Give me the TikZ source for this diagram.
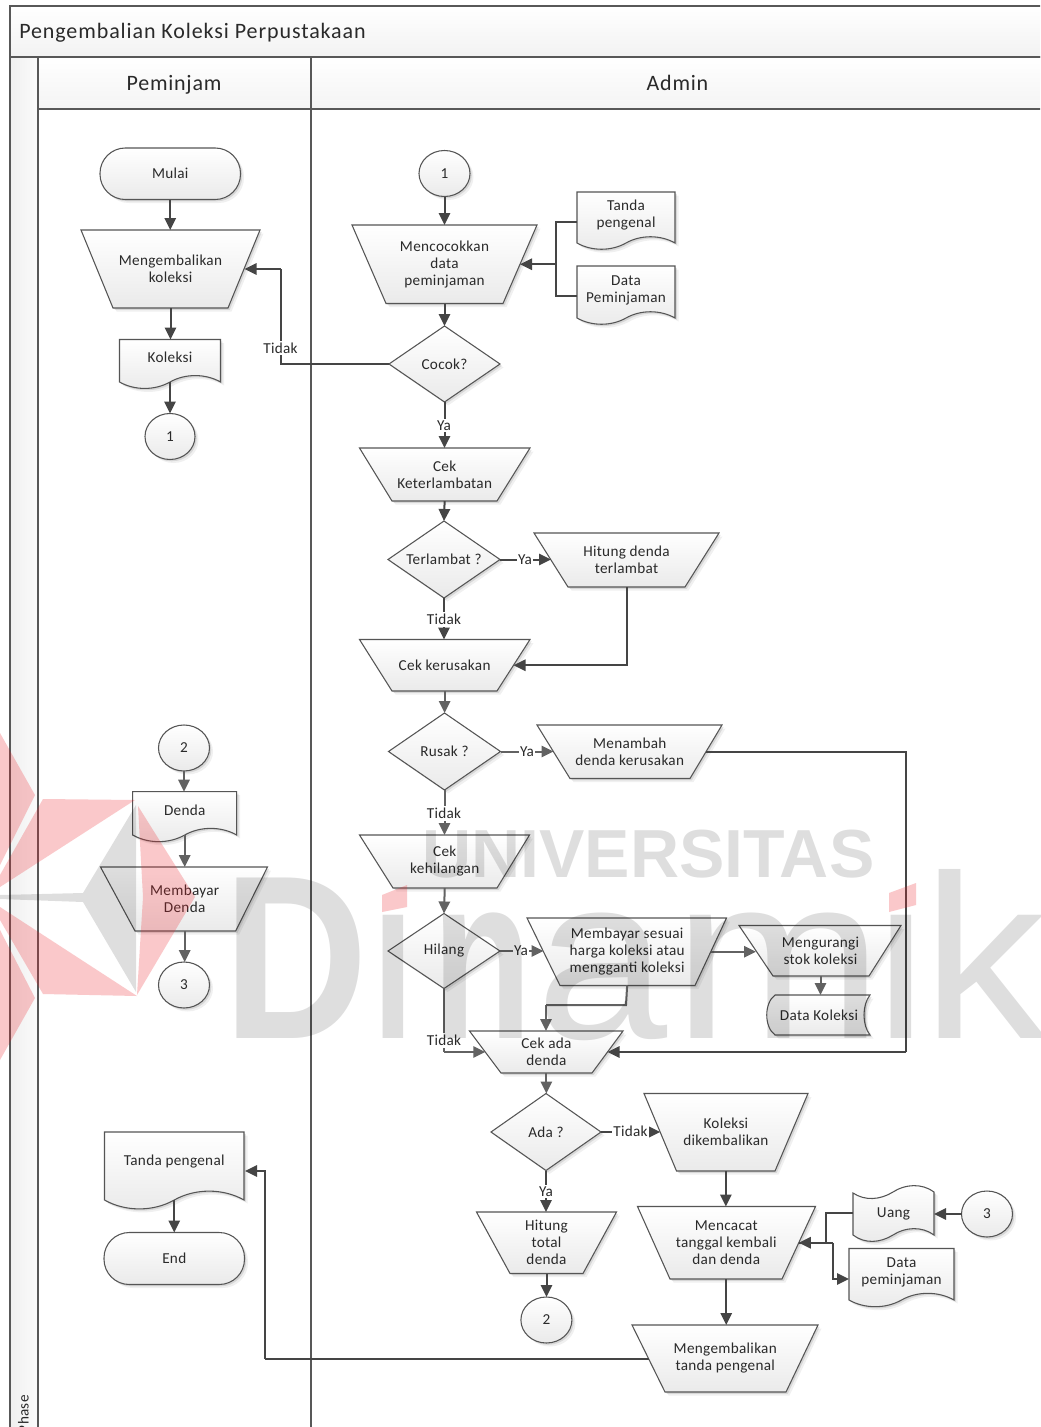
\documentclass[tikz,border=0pt]{standalone}
\usepackage{fontspec}
\setmainfont{Carlito}
\newfontfamily\wmfont{Liberation Sans}
\newfontfamily\lblff[LetterSpace=2]{Carlito}
\newfontfamily\hdrff[LetterSpace=3.5]{Carlito}
\newfontfamily\ttlff[LetterSpace=4.1]{Carlito}
\usetikzlibrary{arrows.meta,shapes.geometric,calc}
\tikzset{
  shp/.style={draw=linegray,line width=0.8pt,top color=white,bottom color=shapeend},
  lbl/.style={font=\lblfont,text=textdark,align=center,inner sep=0pt},
  box/.style={inner sep=0pt,outer sep=0pt,font=\lblfont,text=textdark,align=center},
  edgelbl/.style={font=\lblfont,text=textdark,fill=white,inner xsep=1pt,inner ysep=1.5pt},
  conn/.style={draw=conndark,line width=1.5pt,-{Triangle[length=9pt,width=8.5pt]}},
  connl/.style={draw=connlight,line width=1.5pt,-{Triangle[length=9pt,width=8.5pt]}},
  plain/.style={draw=conndark,line width=1.5pt},
  plainl/.style={draw=connlight,line width=1.5pt},
  frame/.style={draw=framegray,line width=1.2pt},
  hdr/.style={font=\hdrff\fontsize{16.5pt}{18pt}\selectfont,text=textdark,inner sep=0pt},
  wmgray/.style={font=\wmfont\fontsize{175pt}{175pt}\selectfont,text=black,opacity=.13,inner sep=0pt,anchor=base west},
}
\definecolor{linegray}{HTML}{555555}
\definecolor{shapeend}{HTML}{EAEAEA}
\definecolor{textdark}{HTML}{2A2A2A}
\definecolor{conndark}{HTML}{454545}
\definecolor{connlight}{HTML}{626262}
\definecolor{framegray}{HTML}{585858}
\definecolor{wmred}{HTML}{ED1C24}
\newcommand\lblfont{\lblff\fontsize{11.4pt}{12.75pt}\selectfont}
\newcommand\shpath[1]{%
  \path[fill=black,opacity=.06,shift={(3.5,3.5)}] #1;
  \path[fill=black,opacity=.10,shift={(1.8,1.8)}] #1;
  \path[shp] #1;}
% name, top-left x, top-right x, top y, bottom-left x, bottom-right x, bottom y, text
\newcommand\tpz[8]{%
  \shpath{(#2,#4) -- (#3,#4) -- (#6,#7) -- (#5,#7) -- cycle}
  \pgfmathsetmacro\wdv{((#3-#2)+(#6-#5))/2*0.75}
  \pgfmathsetmacro\hgv{(#7-#4)*0.75}
  \node[box,minimum width=\wdv pt,minimum height=\hgv pt] (#1) at ({(#2+#3+#5+#6)/4},{(#4+#7)/2}) {#8};}
% name, cx, cy, half w, half h, text
\newcommand\dmd[6]{%
  \shpath{(#2,{#3-#5}) -- ({#2+#4},#3) -- (#2,{#3+#5}) -- ({#2-#4},#3) -- cycle}
  \pgfmathsetmacro\wdv{2*#4*0.75}
  \pgfmathsetmacro\hgv{2*#5*0.75}
  \node[box,minimum width=\wdv pt,minimum height=\hgv pt] (#1) at (#2,#3) {#6};}
% name, cx, cy, rx, ry, text
\newcommand\ovl[6]{%
  \shpath{(#2,#3) ellipse [x radius=#4,y radius=#5]}
  \pgfmathsetmacro\wdv{2*#4*0.75}
  \pgfmathsetmacro\hgv{2*#5*0.75}
  \node[box,ellipse,minimum width=\wdv pt,minimum height=\hgv pt] (#1) at (#2,#3) {#6};}
% name, x1, x2, y1, y2, text
\newcommand\term[6]{%
  \shpath{[rounded corners=19pt] (#2,#4) rectangle (#3,#5)}
  \pgfmathsetmacro\wdv{(#3-#2)*0.75}
  \pgfmathsetmacro\hgv{(#5-#4)*0.75}
  \node[box,minimum width=\wdv pt,minimum height=\hgv pt] (#1) at ({(#2+#3)/2},{(#4+#5)/2}) {#6};}
% name, x1, x2, y1, y2, text y, text
\newcommand\docN[7]{%
  \pgfmathsetmacro\wv{#3-#2}
  \pgfmathsetmacro\xm{(#2+#3)/2}
  \pgfmathsetmacro\cxv{0.15*\wv}
  \pgfmathsetmacro\dyv{0.085*\wv}
  \shpath{(#2,#4) -- (#3,#4) -- (#3,#5) .. controls ({#3-\cxv},{#5-\dyv}) and ({\xm+\cxv},{#5-\dyv}) .. (\xm,#5) .. controls ({\xm-\cxv},{#5+\dyv}) and ({#2+\cxv},{#5+\dyv}) .. (#2,#5) -- cycle}
  \pgfmathsetmacro\wdv{\wv*0.75}
  \pgfmathsetmacro\hgv{(#5-#4)*0.75}
  \node[inner sep=0pt,outer sep=0pt,minimum width=\wdv pt,minimum height=\hgv pt] (#1) at (\xm,{(#4+#5)/2}) {};
  \node[lbl] (#1t) at (\xm,#6) {#7};}
\begin{document}
\begin{tikzpicture}[x=0.75pt,y=-0.75pt]
\useasboundingbox (0,0) rectangle (1040,1427);
\clip (0,0) rectangle (1040,1427);
\fill[white] (0,0) rectangle (1040,1427);
% pool and lanes
\path[frame,left color=gray!12,right color=gray!3] (10,57) rectangle (38,1435);
\path[frame,top color=white,bottom color=gray!10] (10,6) rectangle (1045,57);
\path[frame,top color=white,bottom color=gray!9] (38,57) rectangle (311,109);
\path[frame,top color=white,bottom color=gray!9] (311,57) rectangle (1045,109);
\draw[frame] (311,109) -- (311,1435);
\node[hdr,font=\ttlff\fontsize{16.5pt}{18pt}\selectfont,anchor=west] (title) at (19,32.5) {Pengembalian Koleksi Perpustakaan};
\node[hdr] (lane1) at (174,85) {Peminjam};
\node[hdr] (lane2) at (677.5,83) {Admin};
\node[font=\lblfont,text=textdark,rotate=90,anchor=east,inner sep=0pt] (phase) at (23.5,1395) {Phase};
% Peminjam lane
\term{mulai}{100}{240.5}{148}{199.5}{Mulai}
\tpz{kembali}{81}{260}{230}{113}{228}{308}{Mengembalikan\\koleksi}
\docN{koleksi}{119.5}{220.5}{339.5}{382}{357}{Koleksi}
\ovl{c1a}{170}{436.5}{25}{23}{1}
\ovl{c2a}{184}{748}{25.5}{23}{2}
\docN{denda}{132.7}{236.7}{791.7}{835}{810}{Denda}
\tpz{bayar}{100.5}{267.5}{867}{135}{235.7}{931}{Membayar\\Denda}
\ovl{c3a}{184}{985}{25.5}{23}{3}
\docN{tanda}{104.5}{244}{1132}{1200}{1162}{Tanda pengenal}
\term{endn}{104}{244.5}{1232.5}{1284.5}{End}
% Admin lane
\ovl{c1b}{444.5}{173.5}{25.5}{23}{1}
\tpz{cocokkan}{352}{537}{225}{386}{503}{303.5}{Mencocokkan\\data\\peminjaman}
\docN{tp}{577}{675}{192}{243}{215}{Tanda\\pengenal}
\docN{dp}{577}{675}{266}{318}{290}{Data\\Peminjaman}
\dmd{cocok}{444.5}{364}{55.5}{38}{Cocok?}
\tpz{cekl}{359.5}{530}{448}{392}{497}{501}{Cek\\Keterlambatan}
\dmd{telat}{444}{559.5}{56}{38.5}{Terlambat ?}
\tpz{hitung}{534}{719}{533}{568}{685}{587}{Hitung denda\\terlambat}
\tpz{cekr}{359.5}{530}{639.5}{392}{497}{691}{Cek kerusakan}
\dmd{rusak}{444.5}{751.5}{56}{38.5}{Rusak ?}
\tpz{nambah}{537}{722}{725}{570}{690}{778.5}{Menambah\\denda kerusakan}
\tpz{cekh}{359.5}{529.5}{835}{393}{497}{888}{Cek\\kehilangan}
\dmd{hilang}{444}{951}{56}{37.5}{\raisebox{-1.5pt}{Hilang}}
\tpz{sesuai}{527}{726.5}{918}{560}{695}{985.5}{Membayar sesuai\\harga koleksi atau\\mengganti koleksi}
\tpz{kurang}{739}{901}{925.5}{773}{869}{976}{Mengurangi\\stok koleksi}
\shpath{(775,995) -- (870,995) .. controls (862,1005) and (862,1025) .. (870,1035) -- (775,1035) .. controls (764,1027) and (764,1003) .. (775,995) -- cycle}
\node[box,minimum width=76.5pt,minimum height=30pt] (dkol) at (819,1015) {Data Koleksi};
\tpz{cekd}{469.5}{623}{1031}{501}{592}{1073}{Cek ada\\denda}
\dmd{ada}{546}{1132}{55}{38.5}{Ada ?}
\tpz{dikem}{644}{808}{1093.5}{676.5}{775}{1171}{Koleksi\\dikembalikan}
\tpz{total}{476.5}{616.5}{1212}{510}{583}{1273.5}{Hitung\\total\\denda}
\ovl{c2b}{546.4}{1320}{25.5}{23}{2}
\tpz{catat}{637.5}{815.5}{1206.5}{670}{782}{1279}{Mencacat\\tanggal kembali\\dan denda}
\shpath{(853,1193) .. controls (865,1201) and (880,1200) .. (893,1192) .. controls (905,1184) and (922,1183) .. (934,1192) -- (934,1235) .. controls (922,1226) and (905,1227) .. (893,1235) .. controls (880,1243) and (865,1244) .. (853,1235) -- cycle}
\node[box,minimum width=60.75pt,minimum height=32pt] (uang) at (893.5,1214) {\raisebox{-1.5pt}{Uang}};
\ovl{c3b}{987}{1214}{25.5}{23}{3}
\docN{dpj}{849}{954}{1248.5}{1300}{1272}{Data\\peminjaman}
\tpz{balik}{632}{818}{1325}{665}{786}{1392}{Mengembalikan\\tanda pengenal}
% junctions
\coordinate (tpL) at (577,222);
\coordinate (dpL) at (577,296);
\coordinate (jA) at (556,264.25);
\coordinate (jB) at (281,269);
\coordinate (jC) at (244.5,269);
\coordinate (jD) at (444,1052);
\coordinate (jE) at (626,1005);
\coordinate (jF) at (546,1005);
\coordinate (jG) at (906,751.75);
\coordinate (jH) at (906,1052);
\coordinate (jJ) at (833,1242.75);
\coordinate (jK) at (826,1242.75);
\coordinate (dpjL) at (849,1279);
\coordinate (uangL) at (853,1213);
\coordinate (jL) at (264.5,1358.5);
\coordinate (tandaR) at (245,1171);
% connectors
\draw[conn] (mulai.south) -- (kembali.north -| mulai.south);
\draw[conn] (kembali.south) -- (koleksi.north -| kembali.south);
\draw[conn] (koleksi.south) -- (c1a.north -| koleksi.south);
\draw[conn] (c1b.south) -- (cocokkan.north -| c1b.south);
\draw[plain] (tpL) -| (jA);
\draw[plain] (dpL) -| (jA);
\draw[conn] (jA) -- (cocokkan.east);
\draw[conn] (cocokkan.south) -- (cocok.north -| cocokkan.south);
\draw[plain] (cocok.west) -| (jB);
\draw[conn] (jB) -- (jC);
\draw[conn] (cocok.south) -- (cekl.north -| cocok.south);
\draw[conn] (cekl.south) -- (telat.north);
\draw[conn] (telat.east) -- (telat.east -| hitung.west);
\draw[conn] (telat.south) -- (cekr.north -| telat.south);
\draw[conn] (hitung.south) |- (cekr.east);
\draw[connl] (cekr.south) -- (rusak.north -| cekr.south);
\draw[connl] (rusak.east) -- (rusak.east -| nambah.west);
\draw[connl] (rusak.south) -- (cekh.north -| rusak.south);
\draw[connl] (cekh.south) -- (hilang.north);
\draw[connl] (hilang.east) -- (hilang.east -| sesuai.west);
\draw[connl] (sesuai.east) -- (sesuai.east -| kurang.west);
\draw[connl] (kurang.south) -- (dkol.north -| kurang.south);
\draw[plainl] (sesuai.south) -- (jE) -- (jF);
\draw[connl] (jF) -- (cekd.north -| jF);
\draw[plainl] (hilang.south) -- (jD);
\draw[connl] (jD) -- (cekd.west);
\draw[plain] (nambah.east) -- (jG) -- (jH);
\draw[conn] (jH) -- (cekd.east);
\draw[connl] (cekd.south) -- (ada.north -| cekd.south);
\draw[conn] (ada.east) -- (ada.east -| dikem.west);
\draw[conn] (ada.south) -- (total.north -| ada.south);
\draw[conn] (total.south) -- (c2b.north -| total.south);
\draw[conn] (dikem.south) -- (catat.north -| dikem.south);
\draw[conn] (catat.south) -- (balik.north -| catat.south);
\draw[conn] (c3b.west) -- (uang.east);
\draw[plain] (uangL) -| (jK);
\draw[conn] (jK) -- (catat.east);
\draw[plain] (catat.east) -- (jJ);
\draw[conn] (jJ) |- (dpjL);
\draw[plain] (balik.west) -- (jL);
\draw[conn] (jL) |- (tandaR);
\draw[conn] (tanda.south) -- (endn.north -| tanda.south);
\draw[connl] (c2a.south) -- (denda.north -| c2a.south);
\draw[connl] (denda.south) -- (bayar.north -| denda.south);
\draw[connl] (bayar.south) -- (c3a.north -| bayar.south);
% connector labels
\node[edgelbl] (l1) at (280.5,348) {Tidak};
\node[edgelbl] (l2) at (444,425.5) {Ya};
\node[edgelbl] (l3) at (525,560) {Ya};
\node[edgelbl] (l4) at (444,619.5) {Tidak};
\node[edgelbl] (l5) at (527,751.5) {Ya};
\node[edgelbl] (l6) at (444,813.5) {Tidak};
\node[edgelbl] (l7) at (521,951) {Ya};
\node[edgelbl] (l8) at (444,1040.5) {Tidak};
\node[edgelbl] (l9) at (630.5,1131.5) {Tidak};
\node[edgelbl] (l10) at (546,1191.5) {Ya};
% watermark
\fill[wmred,opacity=.24] (0,733) -- (35,795) -- (0,865) -- cycle;
\fill[wmred,opacity=.24] (43,799) -- (135,800) -- (0,887) -- (0,875) -- cycle;
\fill[wmred,opacity=.24] (138,806) -- (195,897) -- (137,995) -- (143,897) -- cycle;
\fill[wmred,opacity=.24] (0,907) -- (137,996) -- (43,994) -- (0,920) -- cycle;
\fill[wmred,opacity=.24] (0,930) -- (35,998) -- (0,1060) -- cycle;
\fill[black,opacity=.13] (136,805) -- (83,893) -- (0,895) -- (0,899) -- (83,902) -- (136,992) -- cycle;
\node[wmgray,font=\wmfont\bfseries\fontsize{51pt}{51pt}\selectfont] (wmu) at (422,877.5) {UNIVERSITAS};
\node[wmgray,font=\wmfont\bfseries\fontsize{175pt}{175pt}\selectfont] (wd) at (223,1038) {\scalebox{.86}[1]{D}};
\begin{scope}
\clip (370,908) rectangle (440,1040);
\node[wmgray] (wi1) at (367,1038) {i};
\end{scope}
\node[wmgray,font=\wmfont\bfseries\fontsize{175pt}{175pt}\selectfont] (wn) at (432,1038) {\scalebox{.70}[1]{n}};
\node[wmgray] (wa) at (536,1038) {\scalebox{1.01}[1]{a}};
\node[wmgray] (wm) at (673,1038) {\scalebox{1.08}[1]{m}};
\begin{scope}
\clip (870,908) rectangle (930,1040);
\node[wmgray] (wi2) at (875,1038) {i};
\end{scope}
\node[wmgray] (wk) at (922,1038) {\scalebox{1.06}[1]{k}};
\fill[wmred,opacity=.24] (382,912) -- (382,895) -- (407,885) -- (407,907) -- cycle;
\fill[wmred,opacity=.24] (889,912) -- (889,893) -- (916,883) -- (916,905) -- cycle;
\end{tikzpicture}
\end{document}
